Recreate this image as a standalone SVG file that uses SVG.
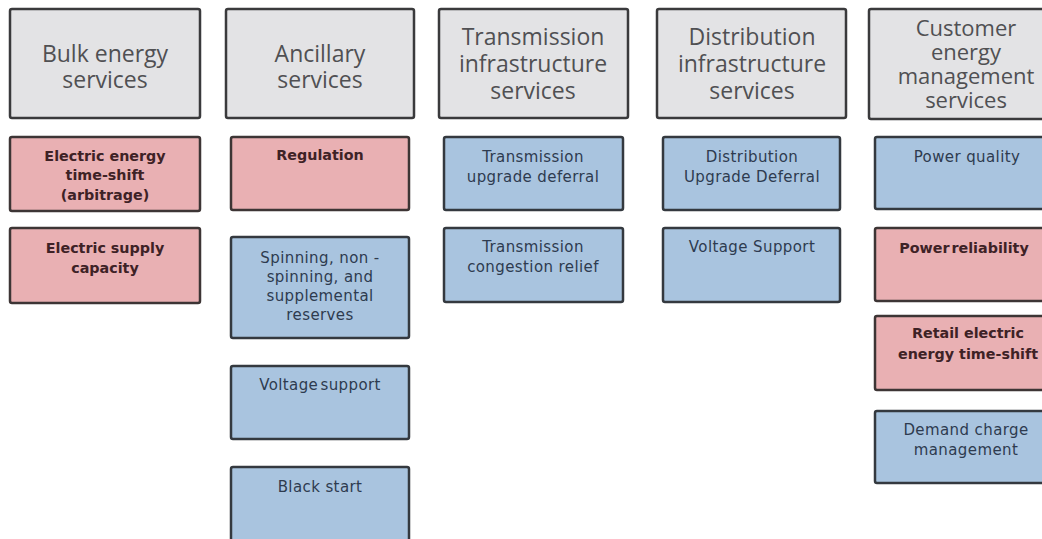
<svg xmlns="http://www.w3.org/2000/svg" width="1042" height="539" viewBox="0 0 1042 539">
<style>
  .hdr rect { fill: #e3e3e5; stroke: #3a3a3c; stroke-width: 2.5; }
  .hdr text { font-family: "Open Sans", "Liberation Sans", sans-serif; font-size: 23px; fill: #505053; text-anchor: middle; }
  .hdr text.sm { font-size: 22px; }
  .pink rect { fill: #e9b0b3; stroke: #3d3535; stroke-width: 2.5; }
  .pink text { font-family: "DejaVu Sans", "Liberation Sans", sans-serif; font-weight: bold; font-size: 14.3px; fill: #3e2226; text-anchor: middle; }
  .blue rect { fill: #a9c4df; stroke: #34393f; stroke-width: 2.5; }
  .blue text { font-family: "DejaVu Sans", "Liberation Sans", sans-serif; font-size: 15px; letter-spacing: 0.4px; fill: #2e3b4f; text-anchor: middle; }
</style>
<rect width="1042" height="539" fill="#ffffff"/>

<!-- Headers -->
<g id="h-bulk" class="hdr"><rect x="10" y="9" width="190" height="109" rx="2"/>
  <text x="105" y="62">Bulk energy</text><text x="105" y="88">services</text></g>
<g id="h-ancillary" class="hdr"><rect x="226" y="9" width="188" height="109" rx="2"/>
  <text x="320" y="62">Ancillary</text><text x="320" y="88">services</text></g>
<g id="h-transmission" class="hdr"><rect x="439" y="9" width="189" height="109" rx="2"/>
  <text x="533" y="45">Transmission</text><text x="533" y="72">infrastructure</text><text x="533" y="99">services</text></g>
<g id="h-distribution" class="hdr"><rect x="657" y="9" width="189" height="109" rx="2"/>
  <text x="752" y="45">Distribution</text><text x="752" y="72">infrastructure</text><text x="752" y="99">services</text></g>
<g id="h-customer" class="hdr"><rect x="869" y="9" width="190" height="110" rx="2"/>
  <text class="sm" x="966" y="36">Customer</text><text class="sm" x="966" y="60">energy</text><text class="sm" x="966" y="84">management</text><text class="sm" x="966" y="108">services</text></g>

<!-- Bulk energy column -->
<g id="n-time-shift" class="pink"><rect x="10" y="137" width="190" height="74" rx="2"/>
  <text x="105" y="161">Electric energy</text><text x="105" y="180">time-shift</text><text x="105" y="200">(arbitrage)</text></g>
<g id="n-supply-capacity" class="pink"><rect x="10" y="228" width="190" height="75" rx="2"/>
  <text x="105" y="253">Electric supply</text><text x="105" y="273">capacity</text></g>

<!-- Ancillary column -->
<g id="n-regulation" class="pink"><rect x="231" y="137" width="178" height="73" rx="2"/>
  <text x="320" y="160">Regulation</text></g>
<g id="n-reserves" class="blue"><rect x="231" y="237" width="178" height="101" rx="2"/>
  <text x="320" y="263">Spinning, non -</text><text x="320" y="282">spinning, and</text><text x="320" y="301">supplemental</text><text x="320" y="320">reserves</text></g>
<g id="n-voltage-anc" class="blue"><rect x="231" y="366" width="178" height="73" rx="2"/>
  <text x="320" y="390" style="word-spacing:-3px">Voltage support</text></g>
<g id="n-black-start" class="blue"><rect x="231" y="467" width="178" height="80" rx="2"/>
  <text x="320" y="492">Black start</text></g>

<!-- Transmission column -->
<g id="n-trans-deferral" class="blue"><rect x="444" y="137" width="179" height="73" rx="2"/>
  <text x="533" y="162">Transmission</text><text x="533" y="182">upgrade deferral</text></g>
<g id="n-trans-congestion" class="blue"><rect x="444" y="228" width="179" height="74" rx="2"/>
  <text x="533" y="252">Transmission</text><text x="533" y="272">congestion relief</text></g>

<!-- Distribution column -->
<g id="n-dist-deferral" class="blue"><rect x="663" y="137" width="177" height="73" rx="2"/>
  <text x="752" y="162">Distribution</text><text x="752" y="182">Upgrade Deferral</text></g>
<g id="n-dist-voltage" class="blue"><rect x="663" y="228" width="177" height="74" rx="2"/>
  <text x="752" y="252">Voltage Support</text></g>

<!-- Customer column -->
<g id="n-power-quality" class="blue"><rect x="875" y="137" width="178" height="72" rx="2"/>
  <text x="967" y="162">Power quality</text></g>
<g id="n-power-reliability" class="pink"><rect x="875" y="228" width="178" height="73" rx="2"/>
  <text x="964" y="253" style="word-spacing:-3px">Power reliability</text></g>
<g id="n-retail-time-shift" class="pink"><rect x="875" y="316" width="178" height="74" rx="2"/>
  <text x="968" y="338">Retail electric</text><text x="968" y="359">energy time-shift</text></g>
<g id="n-demand-charge" class="blue"><rect x="875" y="411" width="178" height="72" rx="2"/>
  <text x="966" y="435">Demand charge</text><text x="966" y="455">management</text></g>

<g id="connectors"></g>
</svg>
